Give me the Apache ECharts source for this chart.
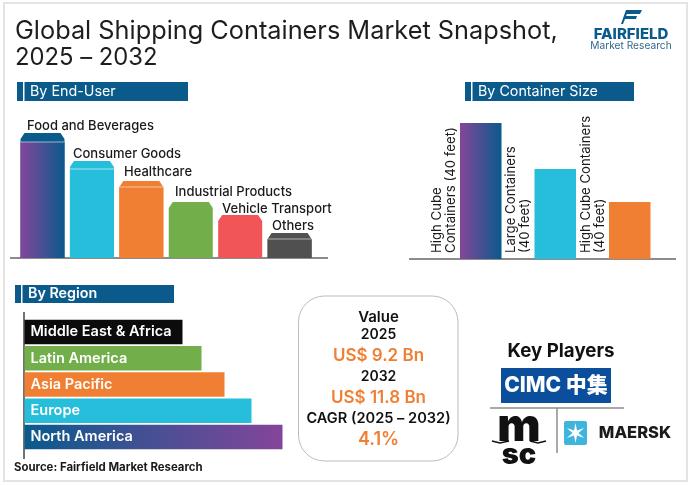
<!DOCTYPE html>
<html>
<head>
<meta charset="utf-8">
<style>
  html, body { margin: 0; padding: 0; background: #fff; }
  #main { width: 691px; height: 485px; }
</style>
<script src="https://cdn.jsdelivr.net/npm/echarts@6/dist/echarts.min.js"></script>
</head>
<body>
<div id="main"></div>
<script>
// 数据
var endUserCategories = ['Food and Beverages', 'Consumer Goods', 'Healthcare', 'Industrial Products', 'Vehicle Transport', 'Others'];
var endUserValues = [125, 97, 77, 56, 43, 25];
var sizeCategories = ['High Cube\nContainers (40 feet)', 'Large Containers\n(40 feet)', 'High Cube Containers\n(40 feet)'];
var sizeValues = [136, 90, 57];
var regionCategories = ['Middle East & Africa', 'Latin America', 'Asia Pacific', 'Europe', 'North America'];
var regionValues = [158, 177, 200, 227, 258];
var valueLines = ['Value', '2025', 'US$ 9.2 Bn', '2032', 'US$ 11.8 Bn', 'CAGR (2025 – 2032)', '4.1%'];

var FONT = 'Inter, "Noto Sans", sans-serif';
var BLUE = '#0a5a8c';
var ORANGE = '#f07f33';
var CYAN = '#27bedc';
var GREEN = '#72ae4a';
var RED = '#f25557';
var GREY = '#505050';
var PURPLE = '#84459b';

function hGrad(a, b) {
  return new echarts.graphic.LinearGradient(0, 0, 1, 0, [
    { offset: 0, color: a }, { offset: 1, color: b }
  ]);
}

var endUserColors = [hGrad(PURPLE, BLUE), CYAN, ORANGE, GREEN, RED, GREY];
var roofColors = [BLUE, CYAN, ORANGE, GREEN, RED, GREY];
var roofHeights = [9, 8, 6, 0, 0, 6];
// 标签相对柱子的微调
var labelDx = [6.5, 3, 4.7, 6.3, 3.9, 4.5];
var labelDy = [7, 7, 8.5, 10, 6, 7];
var regionColors = ['#0b0b0b', GREEN, ORANGE, CYAN, hGrad(BLUE, PURPLE)];
var sizeColors = [hGrad(PURPLE, BLUE), CYAN, ORANGE];

// 带倒角的柱子
function renderEndUser(params, api) {
  var i = params.dataIndex;
  var top = api.coord([i, api.value(1)]);
  var base = api.coord([i, 0]);
  var w = 44, c = 4;
  var l = top[0] - w / 2, r = top[0] + w / 2;
  var roof = roofHeights[i];
  var children = [{
    type: 'polygon',
    shape: { points: [[l, top[1] + c + 2], [l + c, top[1]], [r - c, top[1]], [r, top[1] + c + 2], [r, base[1]], [l, base[1]]] },
    style: { fill: roofColors[i] }
  }];
  if (roof) {
    children.push({
      type: 'rect',
      shape: { x: l, y: top[1] + roof, width: w, height: base[1] - top[1] - roof },
      style: { fill: endUserColors[i] }
    });
    children.push({
      type: 'line',
      shape: { x1: l, y1: top[1] + roof, x2: r, y2: top[1] + roof },
      style: { stroke: 'rgba(255,255,255,0.55)', lineWidth: 1 }
    });
  }
  children.push({
    type: 'text',
    style: {
      x: l + labelDx[i], y: top[1] - labelDy[i], text: endUserCategories[i],
      font: '500 13px ' + FONT, fill: '#1a1a1a', textAlign: 'left', textVerticalAlign: 'middle'
    }
  });
  return { type: 'group', children: children };
}

function header(x, y, w, h, text, weight) {
  return [
    { type: 'rect', shape: { x: x, y: y, width: w, height: h }, style: { fill: BLUE } },
    { type: 'rect', shape: { x: x + 6, y: y, width: 1.5, height: h }, style: { fill: '#fff' } },
    { type: 'text', x: x + 13, y: y + h / 2, style: { text: text, font: weight + ' 14.3px ' + FONT, fill: '#fff', verticalAlign: 'middle' } }
  ];
}

function hLine(x1, x2, y, color, width) {
  return { type: 'line', shape: { x1: x1, y1: y, x2: x2, y2: y }, style: { stroke: color, lineWidth: width } };
}

function vLine(x, y1, y2, color, width) {
  return { type: 'line', shape: { x1: x, y1: y1, x2: x, y2: y2 }, style: { stroke: color, lineWidth: width } };
}

function centerText(x, y, text, font, color) {
  return { type: 'text', x: x, y: y, style: { text: text, font: font, fill: color, align: 'center', verticalAlign: 'middle' } };
}

// 中间面板
var valueYs = [317, 335, 356, 377, 398, 419, 440];
var valueFonts = ['600 15px ', '600 14px ', '600 17px ', '600 14px ', '600 17px ', '600 14.6px ', '600 18px '];
var valueColors = ['#111', '#111', ORANGE, '#111', ORANGE, '#111', ORANGE];
var panelText = valueLines.map(function (t, i) {
  return centerText(378.5, valueYs[i], t, valueFonts[i] + FONT, valueColors[i]);
});

var starPoints = [];
for (var k = 0; k < 12; k++) {
  var ang = -Math.PI / 2 + k * Math.PI / 6;
  var rad = k % 2 ? 3 : 10;
  starPoints.push([575.5 + rad * Math.cos(ang), 433 + rad * Math.sin(ang)]);
}

var graphics = [
  { type: 'rect', shape: { x: 4, y: 3, width: 683, height: 478 }, style: { fill: 'none', stroke: '#e4e4e4', lineWidth: 2 } },
  { type: 'text', x: 15, y: 31, style: { text: 'Global Shipping Containers Market Snapshot,', font: '400 25.3px ' + FONT, fill: '#1e1e1e', verticalAlign: 'middle' } },
  { type: 'text', x: 15, y: 58, style: { text: '2025 – 2032', font: '400 23.8px ' + FONT, fill: '#1e1e1e', verticalAlign: 'middle' } },

  // logo
  { type: 'polygon', shape: { points: [[626, 10], [642, 10], [640, 14], [627, 14], [626, 16], [637, 16], [636, 19], [625, 19], [623, 24], [621, 24]] }, style: { fill: BLUE } },
  centerText(631, 34, 'FAIRFIELD', '800 15px ' + FONT, BLUE),
  centerText(631, 46, 'Market Research', '400 10.2px ' + FONT, '#33688f'),

  hLine(10, 328, 258, '#666', 1.5),
  hLine(409, 676, 259, '#666', 1.5),
  vLine(24, 312, 459, '#444', 1.5),

  { type: 'rect', shape: { x: 298.5, y: 296, width: 159.5, height: 165, r: 26 }, style: { fill: '#fff', stroke: '#bdbdbd', lineWidth: 1 } },

  centerText(561, 351, 'Key Players', '700 18.7px ' + FONT, '#111'),
  { type: 'rect', shape: { x: 501, y: 368, width: 110, height: 35 }, style: { fill: '#0b4f9c' } },
  centerText(556, 386, 'CIMC 中集', '800 21px ' + FONT + ', "Noto Sans CJK SC"', '#fff'),
  hLine(490, 624, 408, '#8c8c8c', 1.5),
  vLine(557, 408, 453, '#8c8c8c', 1.5),
  centerText(519, 427, 'm', '900 46px ' + FONT, '#111'),
  centerText(519, 455, 'sc', '900 29px ' + FONT, '#111'),
  { type: 'polyline', shape: { points: [[492, 441], [500, 443], [509, 441]] }, style: { fill: 'none', stroke: '#111', lineWidth: 1.5 } },
  { type: 'polyline', shape: { points: [[530, 441], [538, 443], [546, 441]] }, style: { fill: 'none', stroke: '#111', lineWidth: 1.5 } },
  { type: 'rect', shape: { x: 564, y: 421, width: 23, height: 24, r: 2 }, style: { fill: '#3fb4dc' } },
  { type: 'polygon', shape: { points: starPoints }, style: { fill: '#fff' } },
  centerText(635, 433, 'MAERSK', '800 16.5px ' + FONT, '#1b1b1b'),

  { type: 'text', x: 14, y: 468, style: { text: 'Source: Fairfield Market Research', font: '700 11.4px ' + FONT, fill: '#1a1a1a', verticalAlign: 'middle' } }
]
  .concat(header(17, 82, 171, 19, 'By End-User', '400'))
  .concat(header(465, 82, 169, 19, 'By Container Size', '400'))
  .concat(header(15, 285, 159, 18, 'By Region', '600'))
  .concat(panelText);

var myChart = echarts.init(document.getElementById('main'), null, { renderer: 'canvas' });

var option = {
  backgroundColor: '#fff',
  animation: false,
  grid: [
    { left: 17.8, top: 133, width: 296.5, height: 125 },
    { left: 443.5, top: 123, width: 223.5, height: 136 },
    { left: 24.5, top: 319, width: 258, height: 131 }
  ],
  xAxis: [
    { gridIndex: 0, type: 'category', data: endUserCategories, show: false },
    { gridIndex: 1, type: 'category', data: sizeCategories, show: false },
    { gridIndex: 2, type: 'value', min: 0, max: 258, show: false }
  ],
  yAxis: [
    { gridIndex: 0, type: 'value', min: 0, max: 125, show: false },
    { gridIndex: 1, type: 'value', min: 0, max: 136, show: false },
    { gridIndex: 2, type: 'category', data: regionCategories, inverse: true, show: false }
  ],
  series: [
    {
      type: 'custom',
      xAxisIndex: 0,
      yAxisIndex: 0,
      renderItem: renderEndUser,
      data: endUserValues.map(function (v, i) { return [i, v]; }),
      encode: { x: 0, y: 1 }
    },
    {
      type: 'bar',
      xAxisIndex: 1,
      yAxisIndex: 1,
      barWidth: 41.5,
      data: sizeValues.map(function (v, i) {
        return { value: v, itemStyle: { color: sizeColors[i] } };
      }),
      label: {
        show: true,
        formatter: '{b}',
        position: [-16, '100%'],
        offset: [6, 0],
        rotate: 90,
        align: 'left',
        verticalAlign: 'middle',
        fontFamily: FONT,
        fontSize: 13.2,
        lineHeight: 14,
        color: '#1a1a1a'
      }
    },
    {
      type: 'bar',
      xAxisIndex: 2,
      yAxisIndex: 2,
      barWidth: 24.5,
      data: regionValues.map(function (v, i) {
        return { value: v, itemStyle: { color: regionColors[i] } };
      }),
      label: {
        show: true,
        formatter: '{b}',
        position: 'insideLeft',
        distance: 6,
        fontFamily: FONT,
        fontSize: 14.5,
        fontWeight: 600,
        color: '#fff'
      }
    }
  ],
  graphic: graphics
};

myChart.setOption(option);
</script>
</body>
</html>
